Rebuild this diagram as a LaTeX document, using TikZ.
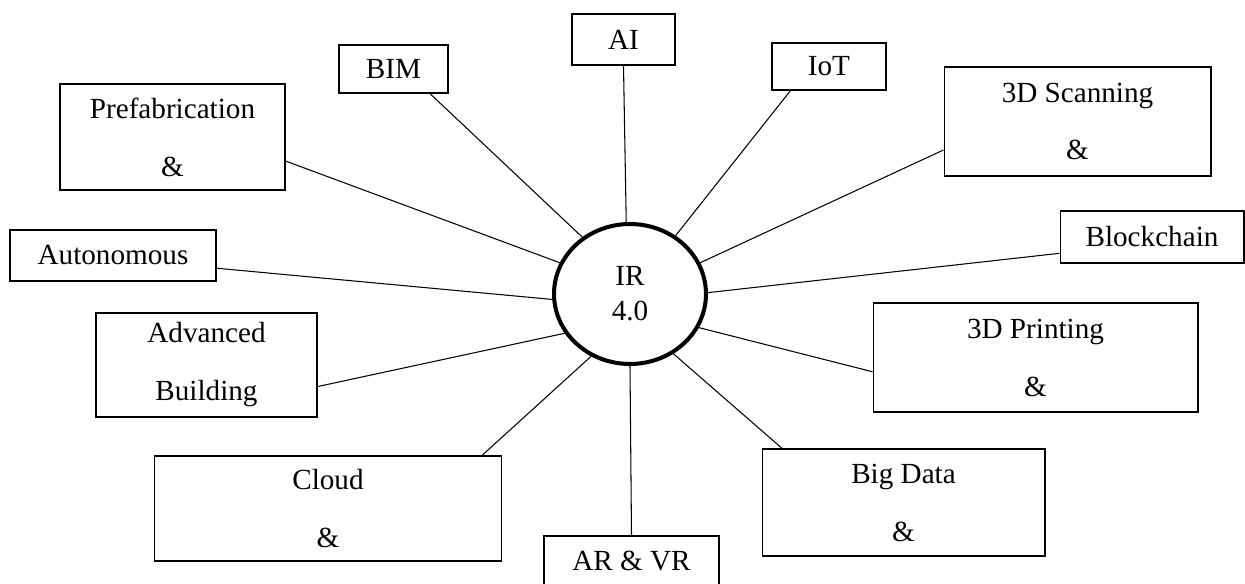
\documentclass[tikz,border=0pt]{standalone}
\usepackage{fontspec}
\setmainfont{Liberation Serif}
\usetikzlibrary{shapes.geometric}

\begin{document}
\begin{tikzpicture}[x=0.02cm,y=-0.02cm,
  tech/.style={draw,line width=0.6pt,inner sep=0pt,align=center,
    font=\fontsize{16.6}{33}\selectfont},
  hub/.style={draw,ellipse,line width=2.3pt,minimum width=3.04cm,
    minimum height=2.8cm,align=center,font=\fontsize{16.6}{20}\selectfont},
  spoke/.style={line width=0.6pt}]
  \useasboundingbox (0,0) rectangle (1245,584);
  \node[hub] (ir) at (630,294) {IR\\4.0};
  \node[tech,minimum width=4.5cm,minimum height=2.12cm] (prefab) at (172.5,137) {Prefabrication\\\&};
  \node[tech,minimum width=4.12cm,minimum height=1.02cm] (auton) at (113,255.5) {Autonomous};
  \node[tech,minimum width=2.18cm,minimum height=0.96cm] (bim) at (393.5,69) {BIM};
  \node[tech,minimum width=2.06cm,minimum height=1.02cm] (ai) at (623.5,39.5) {AI};
  \node[tech,minimum width=2.28cm,minimum height=0.94cm] (iot) at (829,66.5) {IoT};
  \node[tech,minimum width=5.34cm,minimum height=2.18cm] (scan) at (1077.5,121.5) {3D Scanning\\\&};
  \node[tech,minimum width=3.68cm,minimum height=1.04cm] (block) at (1152,237) {Blockchain};
  \node[tech,minimum width=4.42cm,minimum height=2.08cm] (adv) at (206.5,365) {Advanced\\Building};
  \node[tech,minimum width=6.96cm,minimum height=2.1cm] (cloud) at (328,508.5) {Cloud\\\&};
  \node[tech,minimum width=3.5cm,minimum height=1cm] (arvr) at (631.5,561) {AR \& VR};
  \node[tech,minimum width=5.66cm,minimum height=2.14cm] (bigdata) at (903.5,502.5) {Big Data\\\&};
  \node[tech,minimum width=6.5cm,minimum height=2.18cm] (print) at (1035.5,357.5) {3D Printing\\\&};
  % spokes
  \draw[spoke] (ir.130) -- (bim.-34) (ir.93) -- (ai.south) (ir.52) -- (iot.212)
    (ir.24) -- (scan.192) (ir.1) -- (block.190) (ir.156) -- (prefab.-12.5)
    (ir.184) -- (auton.-7) (ir.211) -- (adv.-11) (ir.238) -- (cloud.19)
    (ir.south) -- (arvr.north) (ir.-54) -- (bigdata.156) (ir.-26) -- (print.185);
\end{tikzpicture}
\end{document}
